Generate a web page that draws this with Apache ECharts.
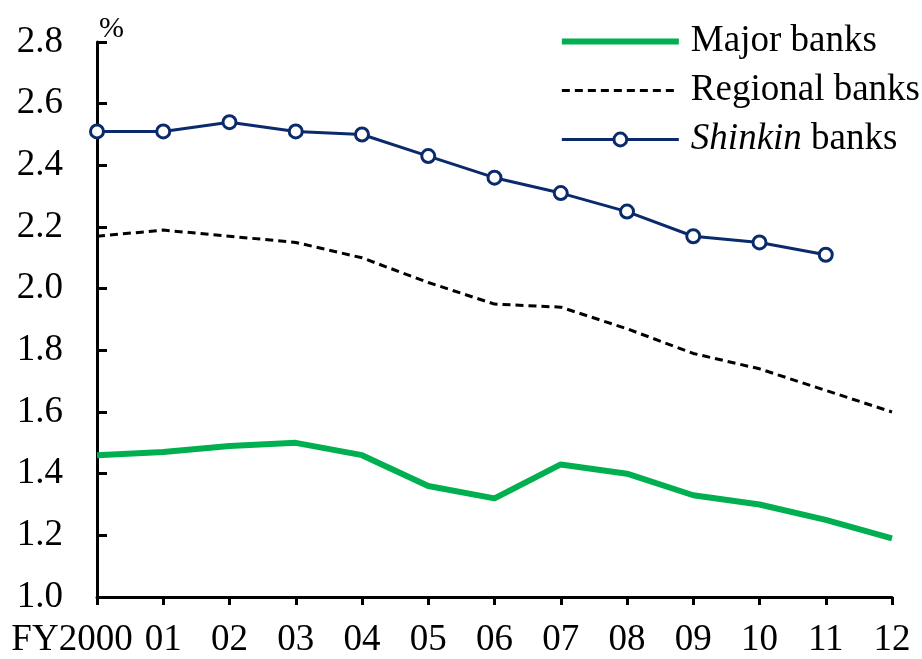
<!DOCTYPE html>
<html><head><meta charset="utf-8">
<script src="https://cdn.jsdelivr.net/npm/echarts@6/dist/echarts.min.js"></script>
<style>html,body{margin:0;padding:0;background:#fff}#c{width:922px;height:659px}</style>
</head><body><div id="c"></div>
<script>
var categories = ['FY2000','01','02','03','04','05','06','07','08','09','10','11','12'];
var majorBanks = [1.46,1.47,1.49,1.50,1.46,1.36,1.32,1.43,1.40,1.33,1.30,1.25,1.19];
var regionalBanks = [2.17,2.19,2.17,2.15,2.10,2.02,1.95,1.94,1.87,1.79,1.74,1.67,1.60];
var shinkinBanks = [2.51,2.51,2.54,2.51,2.50,2.43,2.36,2.31,2.25,2.17,2.15,2.11,null];
var yTicks = {min:1.0, max:2.8, interval:0.2};
var font = 'Liberation Serif, Times New Roman, serif';
var fs = 37;
var chart = echarts.init(document.getElementById('c'), null, {renderer:'canvas'});
chart.setOption({
  animation:false,
  backgroundColor:'#fff',
  grid:{left:97,right:30,top:42,bottom:61,containLabel:false},
  legend:{
    right:-3, top:18, orient:'vertical', itemWidth:117, itemHeight:16, itemGap:12,
    textStyle:{fontFamily:font, fontSize:fs, color:'#000', padding:[0,0,0,7],
      rich:{i:{fontStyle:'italic',fontFamily:font,fontSize:fs,color:'#000'}}},
    formatter:function(n){ return n==='Shinkin banks' ? '{i|Shinkin} banks' : n; },
    data:[
      {name:'Major banks', itemStyle:{opacity:0}, lineStyle:{width:6,color:'#00b050'}},
      {name:'Regional banks', itemStyle:{opacity:0}, lineStyle:{width:3,color:'#000',type:[8,5]}},
      {name:'Shinkin banks', itemStyle:{color:'#fff',borderColor:'#0b2a6b',borderWidth:3}, lineStyle:{width:3,color:'#0b2a6b'}}
    ]
  },
  xAxis:{
    type:'category', data:categories, boundaryGap:false,
    axisLine:{lineStyle:{color:'#000',width:3}},
    axisTick:{show:true,inside:false,length:8,lineStyle:{color:'#000',width:3},alignWithLabel:true},
    axisLabel:{fontFamily:font,fontSize:fs,color:'#000',margin:25,interval:0,
      formatter:function(v,i){ return i===0 ? '{f|'+v+'}' : v; },
      rich:{f:{fontFamily:font,fontSize:fs,color:'#000',padding:[0,50,0,0]}}},
    splitLine:{show:false}
  },
  yAxis:{
    type:'value', min:yTicks.min, max:yTicks.max, interval:yTicks.interval,
    name:'%', nameGap:-2, nameTextStyle:{fontFamily:font,fontSize:30,color:'#000',align:'left',padding:[0,0,0,2]},
    axisLine:{show:true,lineStyle:{color:'#000',width:3}},
    axisTick:{show:true,inside:true,length:10,lineStyle:{color:'#000',width:3}},
    axisLabel:{fontFamily:font,fontSize:fs,color:'#000',margin:34,formatter:function(v){return v.toFixed(1);}},
    splitLine:{show:false}
  },
  series:[
    {name:'Major banks',type:'line',data:majorBanks,symbol:'none',lineStyle:{color:'#00b050',width:6},itemStyle:{color:'#00b050'}},
    {name:'Regional banks',type:'line',data:regionalBanks,symbol:'none',lineStyle:{color:'#000',width:3,type:[8,5]},itemStyle:{color:'#000'}},
    {name:'Shinkin banks',type:'line',data:shinkinBanks,symbol:'circle',symbolSize:13,showSymbol:true,
      lineStyle:{color:'#0b2a6b',width:3},itemStyle:{color:'#fff',borderColor:'#0b2a6b',borderWidth:3}}
  ]
});
</script></body></html>
